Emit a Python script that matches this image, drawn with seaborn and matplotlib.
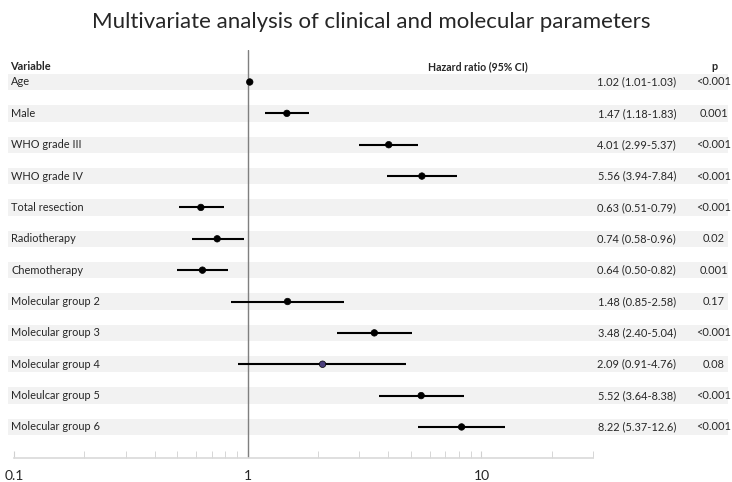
import matplotlib
matplotlib.use("Agg")
import matplotlib.pyplot as plt
import matplotlib.ticker as mticker
from matplotlib.transforms import blended_transform_factory
from matplotlib.patches import Rectangle
import seaborn as sns
import pandas as pd

# data
variables = ["Age", "Male", "WHO grade III", "WHO grade IV", "Total resection",
             "Radiotherapy", "Chemotherapy", "Molecular group 2", "Molecular group 3",
             "Molecular group 4", "Moleulcar group 5", "Molecular group 6"]
hr = [1.02, 1.47, 4.01, 5.56, 0.63, 0.74, 0.64, 1.48, 3.48, 2.09, 5.52, 8.22]
ci_low = [1.01, 1.18, 2.99, 3.94, 0.51, 0.58, 0.50, 0.85, 2.40, 0.91, 3.64, 5.37]
ci_high = [1.03, 1.83, 5.37, 7.84, 0.79, 0.96, 0.82, 2.58, 5.04, 4.76, 8.38, 12.6]
hr_text = ["1.02 (1.01-1.03)", "1.47 (1.18-1.83)", "4.01 (2.99-5.37)", "5.56 (3.94-7.84)",
           "0.63 (0.51-0.79)", "0.74 (0.58-0.96)", "0.64 (0.50-0.82)", "1.48 (0.85-2.58)",
           "3.48 (2.40-5.04)", "2.09 (0.91-4.76)", "5.52 (3.64-8.38)", "8.22 (5.37-12.6)"]
p_text = ["<0.001", "0.001", "<0.001", "<0.001", "<0.001", "0.02", "0.001",
          "0.17", "<0.001", "0.08", "<0.001", "<0.001"]

df = pd.DataFrame({"var": variables, "hr": hr, "lo": ci_low, "hi": ci_high})
df["row"] = range(len(df))
df["grp"] = ["dark"] * 9 + ["blue"] + ["dark"] * 2

sns.set_style("white")
plt.rcParams["font.family"] = ["Lato", "DejaVu Sans"]

W, H = 732, 482
fig = plt.figure(figsize=(7.32, 4.82), dpi=100)
ax = fig.add_axes([14 / W, (H - 458) / H, (593 - 14) / W, (458 - 50) / H])
ax.patch.set_alpha(0)

# shaded row bands
band_tr = blended_transform_factory(fig.transFigure, ax.transData)
for r in df["row"]:
    ax.add_patch(Rectangle((8 / W, r - 0.26), (728 - 8) / W, 0.52, transform=band_tr,
                           facecolor="#f2f2f2", edgecolor="none", clip_on=False, zorder=0))

ax.axvline(1, color="#7f7f7f", lw=1, zorder=1)
ax.hlines(df["row"], df["lo"], df["hi"], color="black", lw=1.5, zorder=2)
sns.scatterplot(data=df, x="hr", y="row", hue="grp",
                palette={"dark": "black", "blue": "#4b3f7d"},
                s=22, edgecolor="black", linewidth=0.5, legend=False, zorder=3, ax=ax)

ax.set_xscale("log")
ax.set_xlim(0.1, 30)
ax.set_ylim(11.99, -1.02)
ax.xaxis.set_major_locator(mticker.FixedLocator([0.1, 1, 10]))
ax.xaxis.set_major_formatter(mticker.FixedFormatter(["0.1", "1", "10"]))
ax.xaxis.set_minor_locator(mticker.FixedLocator([0.2, 0.3, 0.4, 0.5, 0.6, 0.7, 0.8, 0.9,
                                                 2, 3, 4, 5, 6, 7, 8, 9, 20, 30]))
ax.xaxis.set_minor_formatter(mticker.NullFormatter())
ax.tick_params(axis="x", which="both", direction="in", length=5, color="#d0d0d0",
               labelsize=10, pad=9, bottom=True)
ax.set_yticks([])
ax.set_xlabel("")
ax.set_ylabel("")
for s in ["top", "left", "right"]:
    ax.spines[s].set_visible(False)
ax.spines["bottom"].set_color("#d9d9d9")
ax.spines["bottom"].set_linewidth(1.2)

# text columns
fs = 7.9
for r in df["row"]:
    ax.text(11 / W, r, variables[r], transform=band_tr, ha="left", va="center", fontsize=fs)
    ax.text(676 / W, r, hr_text[r], transform=band_tr, ha="right", va="center", fontsize=fs)
    ax.text(714 / W, r, p_text[r], transform=band_tr, ha="center", va="center", fontsize=fs)

ax.text(10 / W, -0.5, "Variable", transform=band_tr, ha="left", va="center",
        fontsize=fs, fontweight="bold")
ax.text(478 / W, -0.5, "Hazard ratio (95% CI)", transform=band_tr, ha="center",
        va="center", fontsize=7.6, fontweight="bold")
ax.text(714 / W, -0.5, "p", transform=band_tr, ha="center", va="center",
        fontsize=fs, fontweight="bold")

fig.text(371 / W, 1 - 22 / H, "Multivariate analysis of clinical and molecular parameters",
         ha="center", va="center", fontsize=16)

fig.savefig("out.png", dpi=100)
